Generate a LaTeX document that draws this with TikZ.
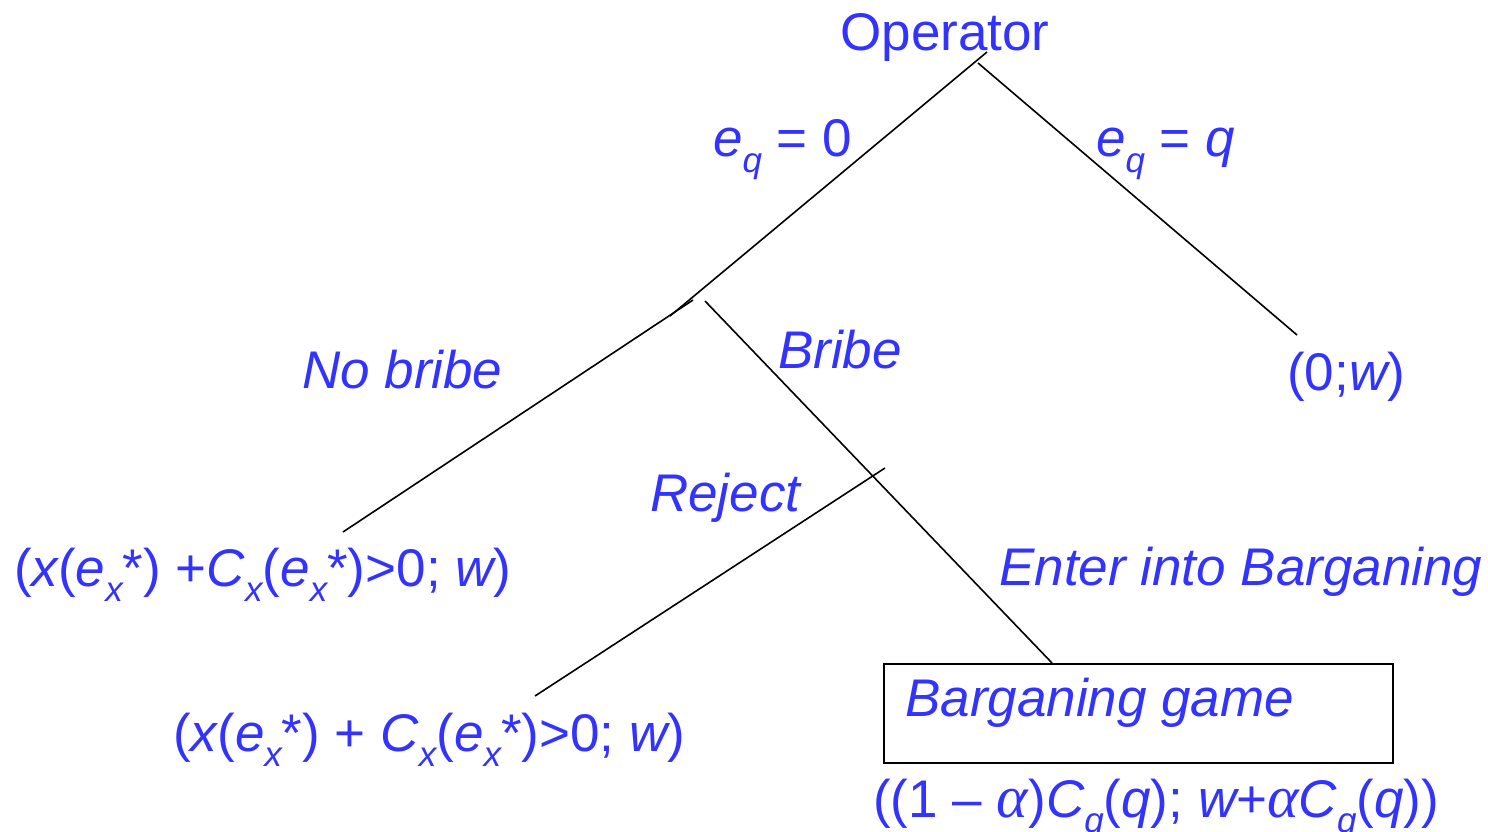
\documentclass[tikz,border=0pt]{standalone}
\usepackage{fontspec}
\setmainfont{Liberation Sans}
\newfontfamily\seriffont{Liberation Serif}
\definecolor{tblue}{RGB}{51,51,255}
\newcommand{\mysub}[1]{\raisebox{-0.3em}{\fontsize{35}{35}\selectfont\itshape #1}}
\newcommand{\myal}{{\fontsize{60}{60}\selectfont\seriffont\itshape α}}
\begin{document}
\begin{tikzpicture}[x=1pt,y=-1pt,
  lbl/.style={inner sep=0pt, text=tblue, font=\fontsize{53}{60}\selectfont},
  edge/.style={draw=black, line width=1.6pt},
  boxst/.style={draw=black, line width=2pt}]
\useasboundingbox (0,0) rectangle (1488,832);
% coordinates
\coordinate (a1) at (987,52);
\coordinate (a2) at (670,316);
\coordinate (b1) at (978,63);
\coordinate (b2) at (1297,335);
\coordinate (c1) at (693,300);
\coordinate (c2) at (343,532);
\coordinate (d1) at (705,301);
\coordinate (d2) at (1052,663);
\coordinate (e1) at (885,468);
\coordinate (e2) at (535,696);
% box
\node[boxst, minimum width=509pt, minimum height=99pt, inner sep=0pt, anchor=north west] (box) at (883,663) {};
% edges
\draw[edge] (a1) -- (a2);
\draw[edge] (b1) -- (b2);
\draw[edge] (c1) -- (c2);
\draw[edge] (d1) -- (d2);
\draw[edge] (e1) -- (e2);
% labels
\node[lbl, anchor=base] (op) at (945,51) {Operator};
\node[lbl, anchor=base west] (eq0) at (713,157) {\itshape e\mysub{q}\upshape{} = 0};
\node[lbl, anchor=base west] (eqq) at (1096,157) {\itshape e\mysub{q}\upshape{} = \itshape q};
\node[lbl, anchor=base west] (nob) at (302,388) {\itshape No bribe};
\node[lbl, anchor=base west] (bri) at (778,368) {\itshape Bribe};
\node[lbl, anchor=base west] (zw) at (1287,390) {(0;\itshape w\upshape)};
\node[lbl, anchor=base west] (rej) at (650,511) {\itshape Reject};
\node[lbl, anchor=base west] (f1) at (14,586) {(\itshape x\upshape(\itshape e\mysub{x}\upshape*) +\itshape C\mysub{x}\upshape(\itshape e\mysub{x}\upshape*)>0; \itshape w\upshape)};
\node[lbl, anchor=base west] (ent) at (999,585) {\itshape Enter into Barganing};
\node[lbl, anchor=base west] (f2) at (173,751) {(\itshape x\upshape(\itshape e\mysub{x}\upshape*) + \itshape C\mysub{x}\upshape(\itshape e\mysub{x}\upshape*)>0; \itshape w\upshape)};
\node[lbl, anchor=base west] (bg) at (905,716) {\itshape Barganing game};
\node[lbl, anchor=base west] (f3) at (873,817) {((1 – \myal)\itshape C\mysub{q}\upshape(\itshape q\upshape); \itshape w\upshape+\myal\itshape C\mysub{q}\upshape(\itshape q\upshape))};
\end{tikzpicture}
\end{document}
